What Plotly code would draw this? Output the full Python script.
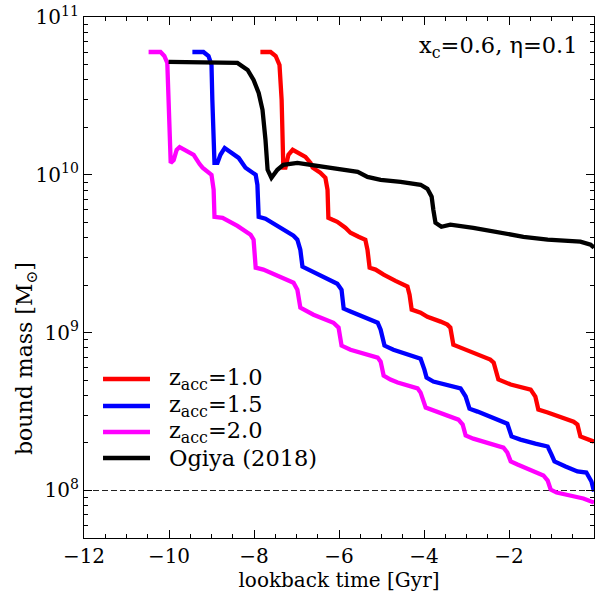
import plotly.graph_objects as go

# lookback time [Gyr] and bound mass [Msun]
t_z10 = [-7.85, -7.61, -7.49, -7.40, -7.35, -7.33, -7.31, -7.26, -7.19, -7.09, -6.91, -6.79, -6.67, -6.62,
         -6.44, -6.32, -6.27, -6.25, -6.15, -6.04, -5.85, -5.73, -5.54, -5.38, -5.33, -5.28, -5.14, -4.95,
         -4.67, -4.55, -4.39, -4.34, -4.29, -4.08, -3.92, -3.61, -3.45, -3.38, -3.31, -3.14, -2.79, -2.44,
         -2.36, -2.29, -2.25, -1.96, -1.73, -1.49, -1.38, -1.31, -1.09, -0.79, -0.48, -0.39, -0.32, 0.0]
m_z10 = [6.0e10, 6.0e10, 5.66e10, 4.97e10, 2.98e10, 1.67e10, 1.11e10, 1.11e10, 1.34e10, 1.44e10, 1.36e10,
         1.30e10, 1.19e10, 1.11e10, 1.03e10, 9.58e9, 8.04e9, 5.34e9, 5.19e9, 5.04e9, 4.62e9, 4.30e9, 4.05e9,
         3.88e9, 3.35e9, 2.58e9, 2.51e9, 2.33e9, 2.13e9, 2.07e9, 1.96e9, 1.74e9, 1.40e9, 1.34e9, 1.26e9,
         1.175e9, 1.124e9, 1.076e9, 8.40e8, 8.04e8, 7.36e8, 6.75e8, 6.46e8, 5.42e8, 5.05e8, 4.69e8, 4.49e8,
         4.36e8, 3.94e8, 3.26e8, 3.12e8, 2.90e8, 2.73e8, 2.62e8, 2.20e8, 2.04e8]

t_z15 = [-9.45, -9.19, -9.07, -9.00, -8.98, -8.95, -8.93, -8.86, -8.79, -8.69, -8.55, -8.36, -8.20, -8.08,
         -7.96, -7.92, -7.89, -7.73, -7.38, -7.07, -6.98, -6.91, -6.86, -6.72, -6.44, -6.20, -6.04, -5.94,
         -5.89, -5.73, -5.38, -5.09, -5.02, -4.93, -4.72, -4.36, -4.08, -3.99, -3.94, -3.78, -3.38, -3.14,
         -3.02, -2.93, -2.74, -2.44, -2.13, -2.04, -1.94, -1.73, -1.38, -1.09, -1.00, -0.93, -0.67, -0.39,
         -0.18, -0.06, 0.0]
m_z15 = [6.0e10, 6.0e10, 5.66e10, 4.97e10, 2.98e10, 1.67e10, 1.19e10, 1.19e10, 1.34e10, 1.48e10, 1.40e10,
         1.28e10, 1.11e10, 1.045e10, 1.0e10, 8.65e9, 5.42e9, 5.27e9, 4.62e9, 4.11e9, 3.88e9, 3.35e9, 2.62e9,
         2.51e9, 2.30e9, 2.13e9, 2.04e9, 1.87e9, 1.42e9, 1.36e9, 1.245e9, 1.156e9, 1.045e9, 8.28e8, 7.80e8,
         7.26e8, 6.84e8, 5.83e8, 5.19e8, 4.90e8, 4.62e8, 4.43e8, 3.94e8, 3.30e8, 3.16e8, 2.94e8, 2.73e8,
         2.65e8, 2.20e8, 2.10e8, 1.98e8, 1.90e8, 1.69e8, 1.53e8, 1.42e8, 1.32e8, 1.30e8, 1.14e8, 9.86e7]

t_z20 = [-10.48, -10.20, -10.11, -10.04, -10.01, -9.99, -9.96, -9.89, -9.82, -9.75, -9.61, -9.42, -9.28,
         -9.21, -9.00, -8.95, -8.93, -8.74, -8.39, -8.08, -8.01, -7.96, -7.78, -7.38, -7.07, -6.98, -6.91,
         -6.60, -6.13, -6.01, -5.94, -5.73, -5.09, -5.02, -4.95, -4.79, -4.62, -4.15, -4.08, -3.96, -3.85,
         -3.19, -3.09, -3.02, -2.84, -2.44, -2.13, -2.04, -1.96, -1.80, -1.49, -1.33, -1.19, -1.09, -1.02,
         -0.88, -0.25, 0.0]
m_z20 = [6.0e10, 6.0e10, 5.66e10, 5.12e10, 2.98e10, 1.67e10, 1.19e10, 1.24e10, 1.44e10, 1.50e10, 1.44e10,
         1.34e10, 1.17e10, 1.11e10, 1.0e10, 8.04e9, 5.42e9, 5.34e9, 4.75e9, 4.17e9, 3.88e9, 2.58e9, 2.51e9,
         2.23e9, 2.07e9, 1.87e9, 1.44e9, 1.30e9, 1.156e9, 1.076e9, 8.28e8, 7.80e8, 6.95e8, 6.55e8, 5.35e8,
         5.05e8, 4.83e8, 4.43e8, 4.17e8, 3.35e8, 3.26e8, 2.81e8, 2.62e8, 2.23e8, 2.13e8, 1.98e8, 1.87e8,
         1.74e8, 1.53e8, 1.46e8, 1.34e8, 1.28e8, 1.245e8, 1.156e8, 1.014e8, 9.7e7, 8.9e7, 8.4e7]

t_ogiya = [-10.01, -8.62, -8.39, -8.15, -8.01, -7.89, -7.80, -7.73, -7.68, -7.59, -7.45, -7.31, -6.98,
           -6.51, -6.04, -5.56, -5.33, -5.02, -4.55, -4.08, -3.92, -3.82, -3.78, -3.73, -3.59, -3.38, -2.84,
           -2.20, -1.66, -1.09, -0.32, -0.08, 0.0]
m_ogiya = [5.19e10, 5.19e10, 5.12e10, 4.62e10, 3.99e10, 3.30e10, 2.58e10, 1.67e10, 1.076e10, 9.58e9,
           1.076e10, 1.157e10, 1.19e10, 1.14e10, 1.09e10, 1.045e10, 9.71e9, 9.30e9, 9.03e9, 8.65e9, 8.15e9,
           7.26e9, 6.00e9, 4.97e9, 4.69e9, 4.83e9, 4.62e9, 4.30e9, 4.05e9, 3.88e9, 3.77e9, 3.61e9, 3.45e9]

mass_limit = 1e8
x_limits = [-12, 0]

labels = ["z<sub>acc</sub>=1.0", "z<sub>acc</sub>=1.5", "z<sub>acc</sub>=2.0", "Ogiya (2018)"]
colors = ["#ff0000", "#0000ff", "#ff00ff", "#000000"]
times = [t_z10, t_z15, t_z20, t_ogiya]
masses = [m_z10, m_z15, m_z20, m_ogiya]

FONT = "DejaVu Serif"

fig = go.Figure()
fig.add_trace(go.Scatter(x=x_limits, y=[mass_limit, mass_limit], mode="lines",
                         line=dict(color="#222222", width=1.2, dash="6px,3px"),
                         showlegend=False, hoverinfo="skip"))
for name, t, m, c in zip(labels, times, masses, colors):
    fig.add_trace(go.Scatter(x=t, y=m, mode="lines", name=name, showlegend=False,
                             line=dict(color=c, width=4.3)))

# legend drawn manually (tight matplotlib-like spacing)
leg_y = [0.3052, 0.2534, 0.2035, 0.1536]
for name, c, yy in zip(labels, colors, leg_y):
    fig.add_shape(type="line", xref="paper", yref="paper", x0=0.0373, x1=0.1294, y0=yy, y1=yy,
                  line=dict(color=c, width=4.5))
    fig.add_annotation(x=0.1627, y=yy, xref="paper", yref="paper", xanchor="left", yanchor="middle",
                       showarrow=False, text=name, font=dict(size=22.5, family=FONT, color="black"))

y_major = [1e8, 1e9, 1e10, 1e11]
y_major_text = ["10<sup>8</sup>", "10<sup>9</sup>", "10<sup>10</sup>", "10<sup>11</sup>"]
y_minor = [k * 10 ** e for e in (7, 8, 9, 10) for k in range(2, 10) if 5e7 <= k * 10 ** e <= 1e11]

fig.update_layout(
    width=595, height=593,
    margin=dict(l=84, r=1, t=17, b=55),
    paper_bgcolor="white", plot_bgcolor="white",
    font=dict(family=FONT, size=20, color="black"),
    showlegend=False,
    xaxis=dict(range=x_limits, showgrid=False, zeroline=False, showline=True, linecolor="black",
               linewidth=1.2, mirror="ticks", ticks="inside", ticklen=8, tickcolor="black",
               tickvals=[-12, -10, -8, -6, -4, -2],
               ticktext=["\u221212", "\u221210", "\u22128", "\u22126", "\u22124", "\u22122"],
               tickfont=dict(size=20),
               minor=dict(ticks="inside", ticklen=4, tickcolor="black", dtick=0.5, tick0=0, showgrid=False),
               title=dict(text="lookback time [Gyr]", font=dict(size=20), standoff=2)),
    yaxis=dict(type="log", range=[7.699, 11], showgrid=False, zeroline=False, showline=True,
               linecolor="black", linewidth=1.2, mirror="ticks", ticks="inside", ticklen=8,
               tickcolor="black", tickvals=y_major, ticktext=y_major_text, tickfont=dict(size=20),
               minor=dict(ticks="inside", ticklen=4, tickcolor="black", tickvals=y_minor, showgrid=False)),
)
# y-axis title placed as rotated text to match reference position
fig.add_annotation(x=-0.1118, y=0.3455, xref="paper", yref="paper", xanchor="center", yanchor="middle",
                   showarrow=False, textangle=-90, text="bound mass [M<sub>\u2299</sub>]",
                   font=dict(size=22, family=FONT))
fig.add_annotation(x=0.812, y=0.942, xref="paper", yref="paper", xanchor="center", yanchor="middle",
                   showarrow=False, text="x<sub>c</sub>=0.6, \u03b7=0.1", font=dict(size=22.5, family=FONT))

fig.write_html("out.html")
